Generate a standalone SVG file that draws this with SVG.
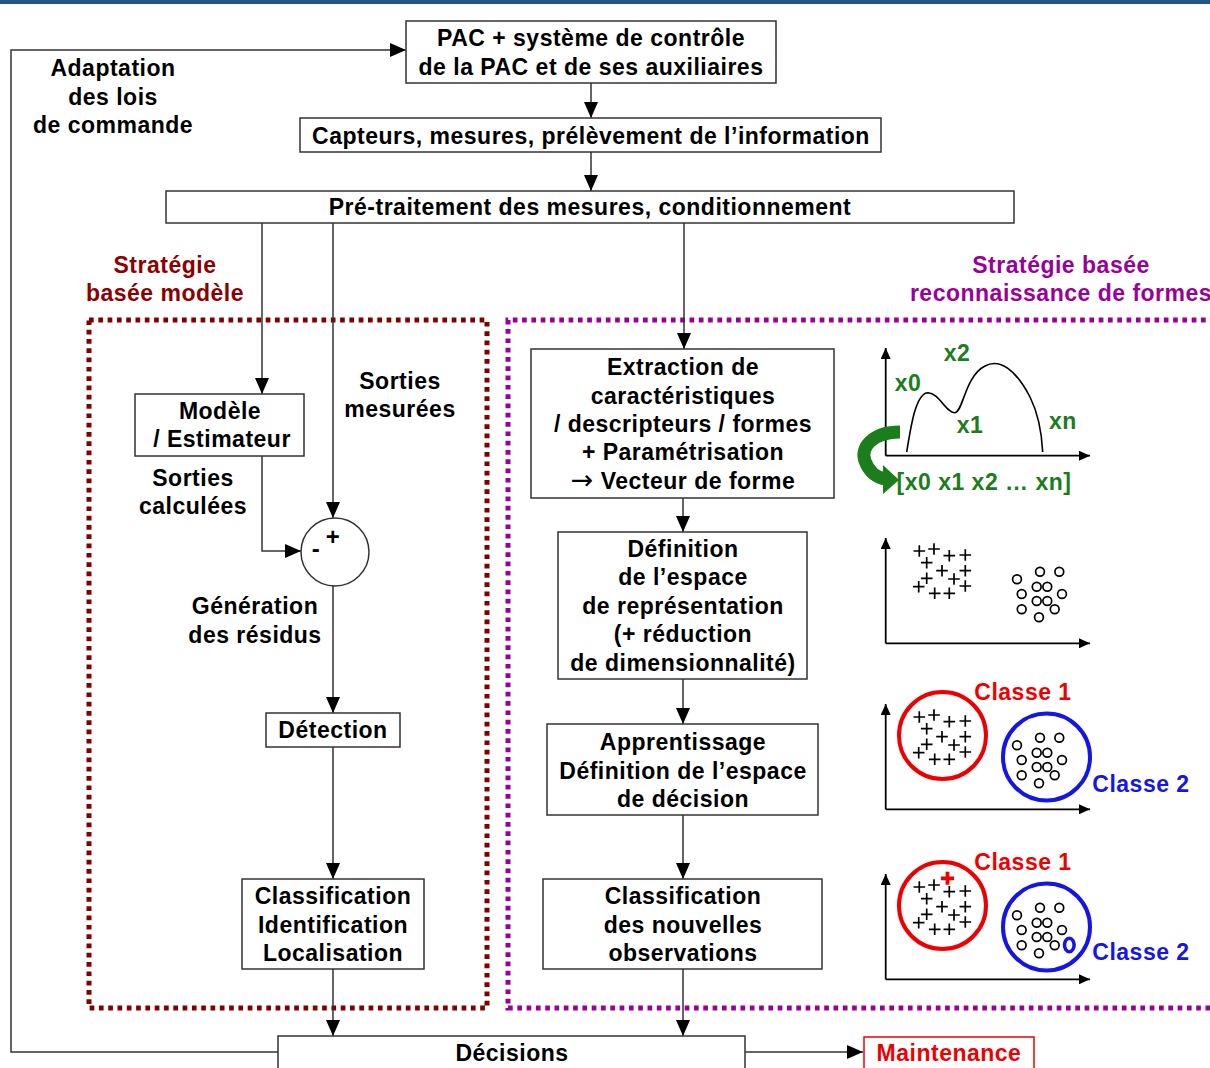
<svg xmlns="http://www.w3.org/2000/svg" xmlns:xlink="http://www.w3.org/1999/xlink" width="1210" height="1068" viewBox="0 0 1210 1068">
<style>
text{font-family:"Liberation Sans",Arial,sans-serif;font-weight:bold;font-size:23px;letter-spacing:0.5px;fill:#000;text-anchor:middle}
.box{fill:#fff;stroke:#333;stroke-width:1.5}
.ln{fill:none;stroke:#333;stroke-width:1.5}
.ax{fill:none;stroke:#000;stroke-width:1.8}
.red{fill:#e00}
.blue{fill:#1515e6}
.grn{fill:#1b7d1b}
.dr{fill:#8b0000}
.pu{fill:#990099}
.pl{stroke:#000;stroke-width:1.7;fill:none}
.ci{stroke:#000;stroke-width:1.7;fill:none}
.arr{font-family:"DejaVu Sans",sans-serif;font-weight:normal;font-size:27px}
</style>
<defs>
<marker id="ah" markerUnits="userSpaceOnUse" markerWidth="16" markerHeight="14" refX="16" refY="7" orient="auto"><path d="M0,0 L16,7 L0,14 z" fill="#000"/></marker>
<marker id="axh" markerUnits="userSpaceOnUse" markerWidth="11" markerHeight="10" refX="11" refY="5" orient="auto"><path d="M0,0 L11,5 L0,10 z" fill="#000"/></marker>
<g id="scatter">
<path class="pl" d="M913.5,551h11.6M919.3,545.2v11.6M928.2,549h11.6M934,543.2v11.6M943.5,555.7h11.6M949.3,549.9v11.6M959.5,555h11.6M965.3,549.2v11.6M920.9,562.7h11.6M926.7,556.9v11.6M936.2,570.7h11.6M942,564.9v11.6M959.5,570.7h11.6M965.3,564.9v11.6M920.9,578.3h11.6M926.7,572.5v11.6M948.2,579h11.6M954,573.2v11.6M912.9,586.7h11.6M918.7,580.9v11.6M959.5,586h11.6M965.3,580.2v11.6M928.9,593.3h11.6M934.7,587.5v11.6M943.5,593.3h11.6M949.3,587.5v11.6"/>
<g class="ci">
<circle cx="1040" cy="571.7" r="4.4"/><circle cx="1059.3" cy="571.7" r="4.4"/><circle cx="1017" cy="579.3" r="4.4"/>
<circle cx="1036.7" cy="586.7" r="4.4"/><circle cx="1047.3" cy="586.7" r="4.4"/><circle cx="1021.7" cy="594" r="4.4"/>
<circle cx="1062" cy="594" r="4.4"/><circle cx="1036.7" cy="601" r="4.4"/><circle cx="1047.3" cy="601" r="4.4"/>
<circle cx="1021.7" cy="609.3" r="4.4"/><circle cx="1054.7" cy="609.3" r="4.4"/><circle cx="1039" cy="617.3" r="4.4"/>
</g>
</g>
<g id="axes2">
<path class="ax" d="M885.7,643.3V538" marker-end="url(#axh)"/>
<path class="ax" d="M885.7,643.3H1090" marker-end="url(#axh)"/>
</g>
</defs>

<rect x="0" y="0" width="1210" height="4" fill="#245488"/>

<g id="regions">
<rect x="89" y="320" width="398" height="688" fill="none" stroke="#800000" stroke-width="5" stroke-dasharray="4.7 4.6"/>
<path d="M1215,320 H508 V1008 H1215" fill="none" stroke="#990099" stroke-width="5" stroke-dasharray="4.7 4.6"/>
<text x="165" y="273" class="dr">Stratégie</text>
<text x="165" y="301" class="dr">basée modèle</text>
<text x="1061" y="273" class="pu">Stratégie basée</text>
<text x="1061" y="301" class="pu">reconnaissance de formes</text>
</g>

<g id="connectors">
<path class="ln" d="M278,1052 H11 V50 H406" marker-end="url(#ah)"/>
<path class="ln" d="M591,83 V118" marker-end="url(#ah)"/>
<path class="ln" d="M591,152 V191" marker-end="url(#ah)"/>
<path class="ln" d="M262,223 V394" marker-end="url(#ah)"/>
<path class="ln" d="M333,223 V518" marker-end="url(#ah)"/>
<path class="ln" d="M684,223 V349" marker-end="url(#ah)"/>
<path class="ln" d="M262,456 V551 H301" marker-end="url(#ah)"/>
<path class="ln" d="M333,586 V713" marker-end="url(#ah)"/>
<path class="ln" d="M333,747 V879" marker-end="url(#ah)"/>
<path class="ln" d="M333,969 V1036" marker-end="url(#ah)"/>
<path class="ln" d="M683,498 V532" marker-end="url(#ah)"/>
<path class="ln" d="M683,679 V724" marker-end="url(#ah)"/>
<path class="ln" d="M683,815 V879" marker-end="url(#ah)"/>
<path class="ln" d="M683,969 V1036" marker-end="url(#ah)"/>
<path class="ln" d="M745,1052 H863" marker-end="url(#ah)"/>
</g>

<text x="113" y="76">Adaptation</text>
<text x="113" y="105">des lois</text>
<text x="113" y="133">de commande</text>

<g id="pac">
<rect class="box" x="406" y="21" width="370" height="62"/>
<text x="591" y="46">PAC + système de contrôle</text>
<text x="591" y="75">de la PAC et de ses auxiliaires</text>
</g>
<g id="capteurs">
<rect class="box" x="300" y="118" width="581" height="34"/>
<text x="591" y="144">Capteurs, mesures, prélèvement de l’information</text>
</g>
<g id="pretraitement">
<rect class="box" x="166" y="191" width="848" height="32"/>
<text x="590" y="215">Pré-traitement des mesures, conditionnement</text>
</g>

<g id="modele">
<rect class="box" x="135" y="394" width="169" height="62"/>
<text x="220" y="419">Modèle</text>
<text x="222" y="447">/ Estimateur</text>
</g>
<text x="400" y="389">Sorties</text>
<text x="400" y="417">mesurées</text>
<text x="193" y="486">Sorties</text>
<text x="193" y="514">calculées</text>

<g id="comparateur">
<circle cx="335" cy="552" r="34" fill="#fff" stroke="#333" stroke-width="1.5"/>
<text x="333" y="545" style="font-size:24px">+</text>
<text x="316" y="557" style="font-size:24px">-</text>
</g>
<text x="255" y="614">Génération</text>
<text x="255" y="643">des résidus</text>

<g id="detection">
<rect class="box" x="266" y="713" width="134" height="34"/>
<text x="333" y="738">Détection</text>
</g>
<g id="classif1">
<rect class="box" x="242" y="879" width="182" height="90"/>
<text x="333" y="904">Classification</text>
<text x="333" y="933">Identification</text>
<text x="333" y="961">Localisation</text>
</g>

<g id="extraction">
<rect class="box" x="531" y="349" width="303" height="149"/>
<text x="683" y="375">Extraction de</text>
<text x="683" y="404">caractéristiques</text>
<text x="683" y="432">/ descripteurs / formes</text>
<text x="683" y="460">+ Paramétrisation</text>
<text x="683" y="489"><tspan class="arr">→</tspan> Vecteur de forme</text>
</g>
<g id="definition">
<rect class="box" x="558" y="532" width="249" height="147"/>
<text x="683" y="557">Définition</text>
<text x="683" y="585">de l’espace</text>
<text x="683" y="614">de représentation</text>
<text x="683" y="642">(+ réduction</text>
<text x="683" y="671">de dimensionnalité)</text>
</g>
<g id="apprentissage">
<rect class="box" x="547" y="724" width="271" height="91"/>
<text x="683" y="750">Apprentissage</text>
<text x="683" y="779">Définition de l’espace</text>
<text x="683" y="807">de décision</text>
</g>
<g id="classif2">
<rect class="box" x="543" y="879" width="279" height="90"/>
<text x="683" y="904">Classification</text>
<text x="683" y="933">des nouvelles</text>
<text x="683" y="961">observations</text>
</g>

<g id="decisions">
<rect class="box" x="278" y="1036" width="467" height="40"/>
<text x="512" y="1061">Décisions</text>
</g>
<g id="maintenance">
<rect x="864" y="1037" width="170" height="40" fill="#fff" stroke="#e00" stroke-width="1.5"/>
<text x="949" y="1061" class="red">Maintenance</text>
</g>

<g id="plot-signal">
<path class="ax" d="M885.7,455.7V348" marker-end="url(#axh)"/>
<path class="ax" d="M885.7,455.7H1090" marker-end="url(#axh)"/>
<path d="M906.7,452 C911,425 916,393 928,392.7 C939,393 946,413 955,412.7 C963,412 965,376 985,366 C1000,358 1016,370 1030,397 C1040,417 1042,438 1042.7,452" fill="none" stroke="#000" stroke-width="1.6"/>
<text x="908" y="391" class="grn">x0</text>
<text x="957" y="361" class="grn">x2</text>
<text x="970" y="433" class="grn">x1</text>
<text x="1063" y="429" class="grn">xn</text>
<path d="M900,432 C872,432 860,448 865,461 C869,472 877,478 886,479" fill="none" stroke="#1b7d1b" stroke-width="13"/>
<path d="M883,465 L899,480 L883,494 z" fill="#1b7d1b"/>
<text x="984" y="490" class="grn">[x0 x1 x2 … xn]</text>
</g>

<g id="plot-espace">
<use xlink:href="#axes2"/>
<use xlink:href="#scatter"/>
</g>

<g id="plot-apprentissage">
<use xlink:href="#axes2" transform="translate(0,166)"/>
<use xlink:href="#scatter" transform="translate(0,166)"/>
<circle cx="942.5" cy="735.5" r="43.5" fill="none" stroke="#e00" stroke-width="4"/>
<circle cx="1046.5" cy="757" r="43.5" fill="none" stroke="#1515e6" stroke-width="4"/>
<text x="1023" y="700" class="red">Classe 1</text>
<text x="1141" y="792" class="blue">Classe 2</text>
</g>

<g id="plot-classification">
<use xlink:href="#axes2" transform="translate(0,336)"/>
<use xlink:href="#scatter" transform="translate(0,336)"/>
<circle cx="942.5" cy="905.5" r="43.5" fill="none" stroke="#e00" stroke-width="4"/>
<circle cx="1046.5" cy="927" r="43.5" fill="none" stroke="#1515e6" stroke-width="4"/>
<path d="M941,878.3h13M947.5,871.8v13" stroke="#e00" stroke-width="3.8" fill="none"/>
<ellipse cx="1069.3" cy="945" rx="4.8" ry="6.8" fill="none" stroke="#1515e6" stroke-width="3.5"/>
<text x="1023" y="870" class="red">Classe 1</text>
<text x="1141" y="960" class="blue">Classe 2</text>
</g>
</svg>
